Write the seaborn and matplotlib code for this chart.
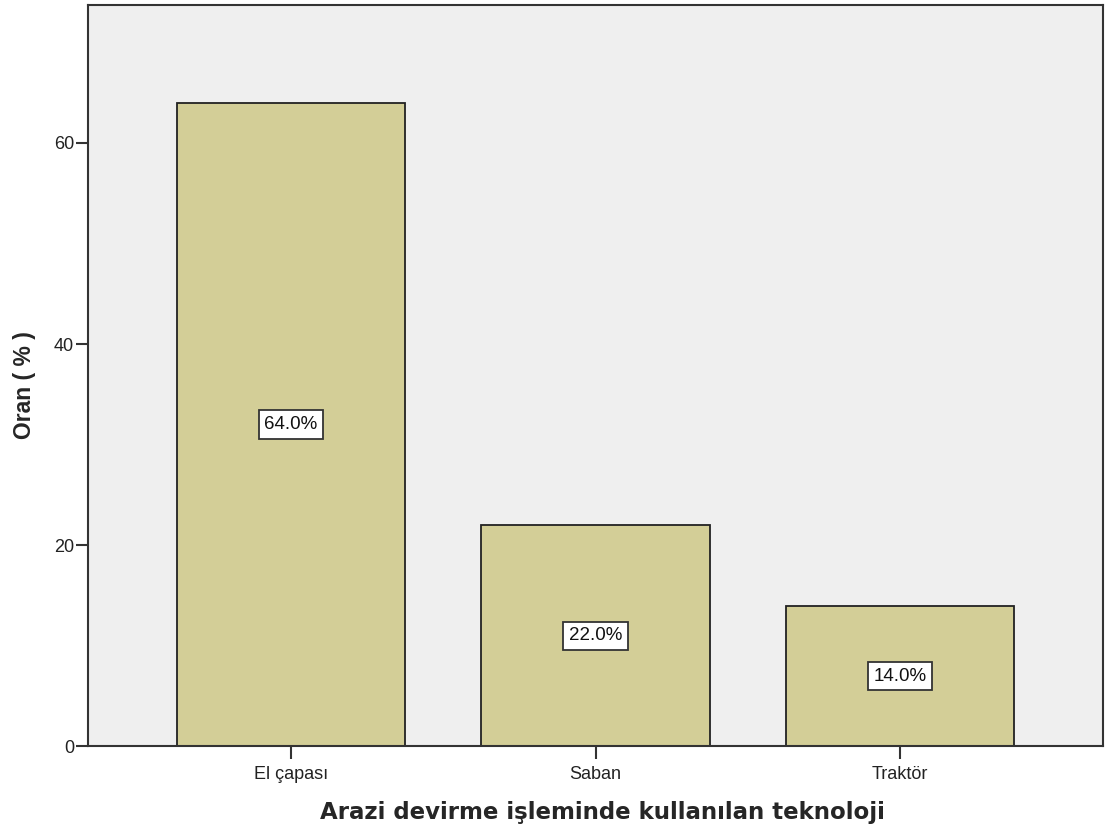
import pandas as pd
import matplotlib
matplotlib.use("Agg")
import matplotlib.pyplot as plt
import seaborn as sns

# Veriler
teknoloji = ["El çapası", "Saban", "Traktör"]
oran = [64.0, 22.0, 14.0]
yticks = [0, 20, 40, 60]

df = pd.DataFrame({"Teknoloji": teknoloji, "Oran": oran})

sns.set_style("white")
plt.rcParams["font.family"] = ["Liberation Sans", "DejaVu Sans"]

fig = plt.figure(figsize=(11.06, 8.35), dpi=100)
ax = fig.add_axes([0.0796, 0.106, 0.9177, 0.888])
ax.set_facecolor("#EFEFEF")

sns.barplot(data=df, x="Teknoloji", y="Oran", color="#D3CE97", width=0.75,
            edgecolor="#222222", linewidth=1.3, saturation=1, ax=ax)

# etiketler (yarı yükseklikte)
for i, v in enumerate(oran):
    ax.text(i, v / 2, f"{v:.1f}%", ha="center", va="center", fontsize=13.5,
            color="#111111",
            bbox=dict(boxstyle="square,pad=0.3", facecolor="white",
                      edgecolor="#333333", linewidth=1.3))

ax.set_xlim(-0.667, 2.667)
ax.set_ylim(0, 73.7)
ax.set_yticks(yticks)

for s in ax.spines.values():
    s.set_color("#333333")
    s.set_linewidth(1.5)

ax.tick_params(axis="both", which="major", length=9, width=1.5, color="#333333",
               labelsize=13, labelcolor="#222222", direction="out",
               left=True, bottom=True)
ax.tick_params(axis="x", pad=5)
ax.tick_params(axis="y", pad=1)

ax.set_ylabel("Oran ( % )", fontsize=16.5, fontweight="bold")
ax.set_xlabel("Arazi devirme işleminde kullanılan teknoloji", fontsize=16.5,
              fontweight="bold", family="DejaVu Sans")
ax.yaxis.set_label_coords(-0.051, 0.487)
ax.xaxis.set_label_coords(0.507, -0.074)

fig.savefig("out.png", dpi=100)
